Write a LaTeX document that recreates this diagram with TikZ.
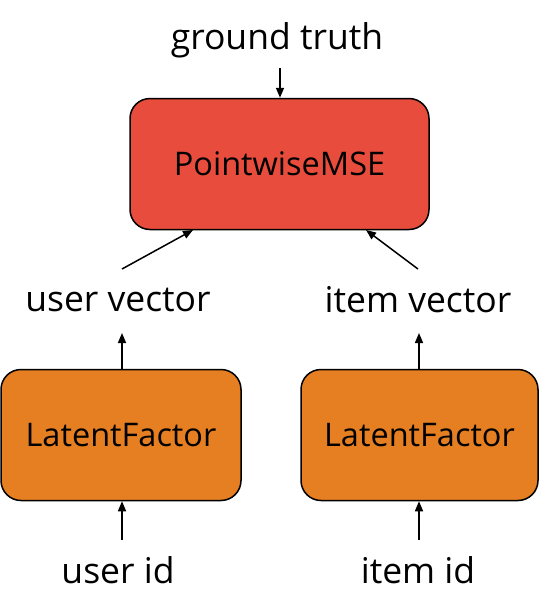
\documentclass[tikz,border=0pt]{standalone}
\usepackage{fontspec}
\setmainfont{Open Sans}
\usetikzlibrary{arrows.meta}
\definecolor{redbox}{HTML}{E74C3C}
\definecolor{orangebox}{HTML}{E67E22}
\begin{document}
\begin{tikzpicture}[x=1pt,y=-1pt,
  box/.style={draw=black,line width=1.5pt,rounded corners=20pt,inner sep=0pt},
  lbl/.style={inner sep=0pt,font=\fontsize{35.5}{40}\selectfont},
  boxlbl/.style={inner sep=0pt,font=\fontsize{32.5}{38}\selectfont},
  arr/.style={-{Triangle[length=10pt,width=8pt]},line width=1.5pt}]
\useasboundingbox (0,0) rectangle (540,614);
\node[box,fill=redbox,minimum width=299pt,minimum height=131pt] (mse) at (279.5,164) {};
\node[boxlbl] at (mse.center) {PointwiseMSE};
\node[box,fill=orangebox,minimum width=240pt,minimum height=131pt] (lfu) at (121,435) {};
\node[boxlbl] at (lfu.center) {LatentFactor};
\node[box,fill=orangebox,minimum width=237pt,minimum height=131pt] (lfi) at (419.5,435) {};
\node[boxlbl] at (lfi.center) {LatentFactor};
\node[lbl] (gt) at (277,40) {ground truth};
\node[lbl] (uv) at (118,300) {user vector};
\node[lbl] (iv) at (418,300) {item vector};
\node[lbl] (uid) at (118,570) {user id};
\node[lbl] (iid) at (418,570) {item id};
\coordinate (gtend) at (280,68);
\coordinate (uvtail) at (122,269);
\coordinate (ivtail) at (418,269);
\coordinate (uvhead) at (122,333);
\coordinate (ivhead) at (419,333);
\coordinate (uidt) at (122,540);
\coordinate (iidt) at (419,540);
\draw[arr] (gtend) -- (gtend |- mse.north);
\draw[arr] (uvtail) -- (193,230);
\draw[arr] (ivtail) -- (366,230);
\draw[arr] (uvhead |- lfu.north) -- (uvhead);
\draw[arr] (ivhead |- lfi.north) -- (ivhead);
\draw[arr] (uidt) -- (uidt |- lfu.south);
\draw[arr] (iidt) -- (iidt |- lfi.south);
\end{tikzpicture}
\end{document}
